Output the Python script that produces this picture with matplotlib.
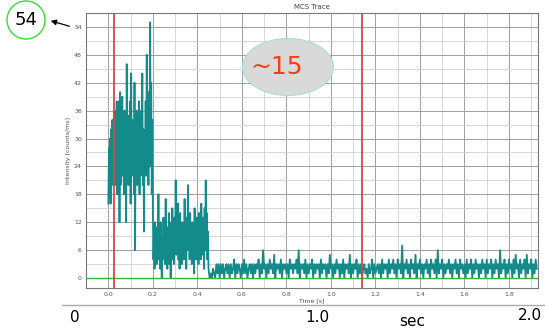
import numpy as np
import matplotlib.pyplot as plt
from matplotlib.patches import Ellipse

# MCS trace, counts per ms
# first burst: 0.0 - 0.2 s, step 2.5 ms
burst1 = [16, 28, 18, 30, 16, 32, 22, 34, 20, 30, 24, 36, 20, 33, 22, 38, 18, 35, 24, 38,
          12, 40, 20, 34, 26, 39, 22, 32, 18, 36, 24, 30, 12, 46, 22, 35, 20, 33, 24, 38,
          16, 44, 22, 34, 26, 30, 18, 42, 6, 32, 22, 36, 20, 30, 24, 38, 18, 34, 22, 36,
          26, 44, 20, 32, 10, 30, 24, 38, 22, 48, 26, 36, 20, 40, 24, 55, 28, 42, 18, 34]
# second burst: 0.2 - 0.45 s, step 2.5 ms
burst2 = [14, 4, 10, 2, 12, 5, 9, 3, 11, 6, 18, 4, 10, 2, 12, 5, 0, 9, 4, 13,
          6, 10, 3, 17, 5, 11, 2, 9, 6, 14, 3, 8, 0, 12, 4, 15, 7, 10, 3, 13,
          6, 21, 5, 12, 8, 16, 4, 11, 2, 14, 7, 10, 3, 12, 6, 9, 4, 17, 5, 11,
          2, 13, 6, 20, 8, 11, 4, 14, 7, 10, 3, 12, 6, 9, 1, 15, 5, 11, 4, 13,
          7, 10, 3, 14, 6, 12, 4, 16, 7, 11, 5, 13, 2, 15, 6, 21, 8, 14, 4, 10]
# background: 0.45 - 1.93 s, step 5 ms
tail = [2, 0, 1, 0, 2, 1, 0, 3, 1, 3, 0, 3, 1, 3, 0, 2, 3, 1, 3, 0,
        3, 1, 2, 4, 0, 3, 1, 3, 2, 0, 3, 1, 4, 1, 3, 0, 2, 3, 1, 3,
        0, 3, 1, 3, 2, 4, 0, 3, 1, 6, 2, 3, 0, 3, 1, 4, 2, 3, 1, 5,
        0, 3, 2, 3, 1, 4, 0, 3, 2, 3, 1, 3, 0, 4, 2, 3, 1, 3, 2, 4,
        1, 6, 0, 3, 2, 3, 1, 4, 0, 3, 1, 3, 2, 4, 0, 3, 1, 3, 2, 3,
        0, 4, 1, 3, 2, 3, 0, 3, 1, 5, 2, 3, 0, 3, 1, 4, 2, 3, 0, 3,
        1, 4, 0, 3, 2, 3, 1, 5, 0, 3, 1, 3, 2, 4, 0, 3, 1, 3, 0, 2,
        3, 1, 2, 0, 3, 1, 2, 4, 0, 3, 1, 2, 3, 1, 3, 0, 4, 1, 3, 2,
        3, 0, 4, 1, 3, 2, 4, 1, 3, 0, 4, 2, 3, 1, 7, 0, 3, 2, 4, 1,
        3, 0, 4, 2, 3, 1, 5, 0, 3, 2, 4, 1, 3, 0, 3, 2, 4, 1, 3, 0,
        4, 2, 3, 1, 4, 0, 6, 1, 3, 2, 4, 0, 3, 1, 3, 2, 4, 1, 3, 0,
        3, 2, 4, 1, 3, 0, 4, 2, 3, 1, 3, 0, 4, 1, 3, 2, 4, 0, 3, 1,
        4, 2, 3, 0, 3, 1, 4, 2, 3, 0, 4, 1, 3, 2, 4, 0, 3, 1, 4, 2,
        3, 0, 6, 1, 3, 2, 4, 0, 3, 1, 4, 2, 3, 0, 4, 1, 5, 2, 3, 0,
        4, 1, 3, 2, 4, 0, 5, 1, 3, 2, 4, 0, 3, 1, 4, 2]

markers_t = [0.027, 1.138]   # red cursor lines
y_ticks = [0, 6, 12, 18, 24, 30, 36, 42, 48, 54]
x_ticks = [0.0, 0.2, 0.4, 0.6, 0.8, 1.0, 1.2, 1.4, 1.6, 1.8]

t1 = 0.0 + 0.0025 * np.arange(len(burst1))
t2 = 0.2 + 0.0025 * np.arange(len(burst2))
t3 = 0.45 + 0.005 * np.arange(len(tail))
t = np.concatenate([t1, t2, t3])
y = np.concatenate([burst1, burst2, tail])

fig = plt.figure(figsize=(5.45, 3.32), dpi=100)
ax = fig.add_axes([0.158, 0.133, 0.829, 0.828])

ax.plot(t, y, color='#138b8b', lw=1.3, zorder=3)
ax.axhline(0, color='#3cb043', lw=1.0, zorder=4)
for m in markers_t:
    ax.axvline(m, color='#d24a43', lw=1.3, zorder=5)

ax.set_xlim(-0.08, 1.93)
ax.set_ylim(-2.1, 57)
ax.set_xticks(x_ticks)
ax.set_xticklabels(['%.1f' % v for v in x_ticks])
ax.set_yticks(y_ticks)
ax.set_xticks(np.arange(-0.1, 1.95, 0.1), minor=True)
ax.set_yticks(np.arange(0, 57, 3), minor=True)
ax.grid(True, which='major', color='#a0a0a0', lw=0.7)
ax.grid(True, which='minor', color='#d0d0d0', lw=0.6)
ax.tick_params(which='both', labelsize=4.5, labelcolor='#555555', length=0, pad=3)
for s in ax.spines.values():
    s.set_color('#777777')
    s.set_linewidth(0.8)
ax.set_title('MCS Trace', fontsize=5, color='#444444', pad=3)
ax.set_xlabel('Time [s]', fontsize=4.5, color='#555555', labelpad=1)
ax.set_ylabel('Intensity [counts/ms]', fontsize=4.5, color='#555555', labelpad=2)

# overlay in pixel units for the slide annotations
ov = fig.add_axes([0, 0, 1, 1], zorder=10)
ov.set_xlim(0, 545)
ov.set_ylim(332, 0)
ov.axis('off')

ov.add_patch(Ellipse((26, 20), 38, 38, facecolor='white', edgecolor='#33dd33', lw=1.0))
ov.text(26, 20, '54', fontsize=13, ha='center', va='center')
ov.annotate('', xy=(48, 20), xytext=(72, 27),
            arrowprops=dict(arrowstyle='-|>', color='black', lw=0.9, mutation_scale=8))

ov.add_patch(Ellipse((288, 67), 91, 57, facecolor='#d9d9d9', edgecolor='#a8dcdc', lw=0.8))
ov.text(277, 67, '~15', fontsize=18, color='#ff3a10', ha='center', va='center')

ov.plot([62, 545], [305, 305], color='#aaaaaa', lw=1.0)
ov.text(75, 318, '0', fontsize=11, ha='center', va='center')
ov.text(317, 317, '1.0', fontsize=11, ha='center', va='center')
ov.text(412, 321, 'sec', fontsize=11, ha='center', va='center')
ov.text(530, 315, '2.0', fontsize=11, ha='center', va='center')

fig.savefig('out.png', dpi=100)
